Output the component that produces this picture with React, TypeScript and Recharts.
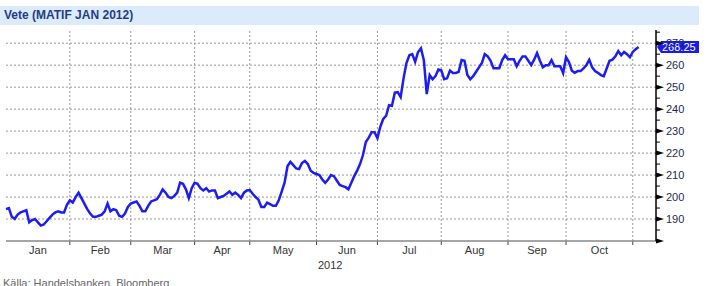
import { LineChart, Line, XAxis, YAxis, ReferenceLine } from 'recharts';

// MATIF wheat, Jan 2012 contract, daily closes per month (trading days)
const monthNames = ['Jan', 'Feb', 'Mar', 'Apr', 'May', 'Jun', 'Jul', 'Aug', 'Sep', 'Oct'];

const jan = [194.5, 195, 191, 190, 192, 193, 193.5, 194, 188.5, 189.5, 190, 188.5, 187, 187.5, 189, 190.5, 192, 193, 193.5, 193, 193, 196.5];
const feb = [198.5, 197.5, 200, 202, 199.5, 197, 194.5, 192.5, 191, 191, 191.5, 192, 193.5, 197, 193.5, 194.5, 194, 191.5, 191, 192.5, 195.5];
const mar = [197, 197.5, 198, 196, 193.5, 193.5, 196, 198, 198.5, 199, 201, 203.5, 202, 200, 199.5, 200.5, 202, 206.5, 206, 203.5, 199.5, 204];
const apr = [206.5, 206, 204, 203, 204, 202.5, 203, 203, 199.5, 200, 200.5, 201.5, 202.5, 201, 202, 201, 199.5, 202, 203];
const may = [203.2, 201.5, 200, 198.8, 195.5, 195.5, 197.5, 196.8, 196, 196, 198.5, 202.5, 206.5, 214, 216, 214.5, 213, 212.7, 215.5, 216.4, 215, 212, 211];
const jun = [210.5, 210, 208, 206.5, 208, 210, 209.5, 207.5, 205.5, 205, 204.5, 203.5, 206.5, 209.5, 212, 215, 219, 225, 227, 229.5, 229.5];
const jul = [226.8, 232, 235.5, 237, 241.8, 241.5, 247.5, 247.7, 245.5, 254, 261, 264.5, 265, 261.5, 266, 267.7, 262.3, 246.8, 255.5, 253.6, 255, 258];
const aug = [257.7, 253.6, 254, 257.5, 256.4, 256.4, 257, 262.3, 262, 255.5, 253.6, 255, 257, 259, 261, 265, 264, 262, 258.6, 258.6, 258.6, 262.3, 264.5];
const sep = [262.7, 262.7, 262.7, 259.5, 262, 264, 264, 262, 260, 262.5, 265.5, 262, 259, 260, 260, 262.3, 259.5, 259.5, 259.5, 256.4];
const oct = [263.6, 261.4, 257.5, 256.5, 257.3, 257.3, 258.5, 260, 262.5, 259, 257.3, 256.5, 255.5, 255, 258.5, 262, 262.5, 264, 266.4, 264.5, 266, 265, 263.6];
const nov = [266, 267.3, 268.25];

const months = [jan, feb, mar, apr, may, jun, jul, aug, sep, oct];
const lastValue = 268.25;

const yTicks = [180, 185, 190, 195, 200, 205, 210, 215, 220, 225, 230, 235, 240, 245, 250, 255, 260, 265, 270, 275];
const yGrid = [190, 200, 210, 220, 230, 240, 250, 260, 270];

const data = [...months, nov].flat().map((v, i) => ({ i, v }));

// month boundaries (index of first trading day) and label positions
const boundaries: number[] = [];
const centers: number[] = [];
let acc = 0;
months.forEach((m) => {
  centers.push(acc + m.length / 2);
  acc += m.length;
  boundaries.push(acc);
});

const RightTick = ({ x, y, payload }: any) => {
  const v = payload.value;
  const major = v % 10 === 0;
  return (
    <g>
      {major ? (
        <polygon points={`${x},${y - 2.5} ${x + 8},${y} ${x},${y + 2.5}`} fill="#000" />
      ) : (
        <line x1={x} y1={y} x2={x + 4} y2={y} stroke="#000" />
      )}
      {major && v !== 180 && (
        <text x={x + 10} y={y} dy={4} fontSize={11} fill="#1d2b4f" fontFamily="'Liberation Sans', Arial, sans-serif">
          {v}
        </text>
      )}
    </g>
  );
};

const Badge = ({ viewBox }: any) => {
  const x = viewBox.x + viewBox.width;
  const y = viewBox.y;
  return (
    <g>
      <polygon
        points={`${x + 1},${y} ${x + 5},${y - 6} ${x + 43},${y - 6} ${x + 43},${y + 6} ${x + 5},${y + 6}`}
        fill="#1a1af0"
      />
      <text x={x + 6} y={y + 4} fontSize={11} fill="#fff" fontFamily="'Liberation Sans', Arial, sans-serif">
        {lastValue.toFixed(2)}
      </text>
    </g>
  );
};

export default function App() {
  const font = "'Liberation Sans', Arial, sans-serif";
  return (
    <div style={{ position: 'absolute', left: 0, top: 0, width: 711, height: 286, background: '#fff', fontFamily: font }}>
      <div
        style={{
          position: 'absolute', left: 0, top: 6, width: 699, height: 19, background: '#dcebfb',
          color: '#1f3c88', fontWeight: 'bold', fontSize: 12, lineHeight: '19px', paddingLeft: 4, boxSizing: 'border-box',
        }}
      >
        Vete (MATIF JAN 2012)
      </div>
      <LineChart width={711} height={286} data={data} margin={{ top: 30, right: 0, bottom: 0, left: 6 }}>
        {yGrid.map((g) => (
          <ReferenceLine key={'h' + g} y={g} stroke="#999" strokeDasharray="2 2" />
        ))}
        {boundaries.map((b) => (
          <ReferenceLine key={'v' + b} x={b} stroke="#999" strokeDasharray="2 2" />
        ))}
        {boundaries.map((b) => (
          <ReferenceLine
            key={'t' + b}
            segment={[{ x: b, y: 180 }, { x: b, y: 178.2 }]}
            stroke="#444"
            ifOverflow="visible"
          />
        ))}
        <XAxis
          dataKey="i"
          type="number"
          domain={[0, 224]}
          ticks={centers}
          tickFormatter={(v: number) => monthNames[centers.indexOf(v)] ?? ''}
          interval={0}
          tickLine={false}
          tickSize={0}
          tickMargin={5}
          axisLine={{ stroke: '#888', strokeWidth: 1.5 }}
          tick={{ fontSize: 11, fill: '#333', fontFamily: font }}
          height={45}
        />
        <YAxis
          orientation="right"
          domain={[180, 276]}
          ticks={yTicks}
          interval={0}
          width={55}
          tickLine={false}
          tickSize={0}
          tickMargin={0}
          axisLine={{ stroke: '#000', strokeWidth: 1.5 }}
          tick={<RightTick />}
          allowDataOverflow
        />
        <ReferenceLine y={lastValue} stroke="none" label={<Badge />} />
        <Line
          type="linear"
          dataKey="v"
          stroke="#1c1cf5"
          strokeWidth={2.5}
          dot={false}
          isAnimationActive={false}
        />
      </LineChart>
      <div style={{ position: 'absolute', left: 318, top: 259, fontSize: 11, color: '#333' }}>2012</div>
      <div style={{ position: 'absolute', left: 3, top: 277, fontSize: 11, color: '#666' }}>Källa: Handelsbanken, Bloomberg</div>
    </div>
  );
}
